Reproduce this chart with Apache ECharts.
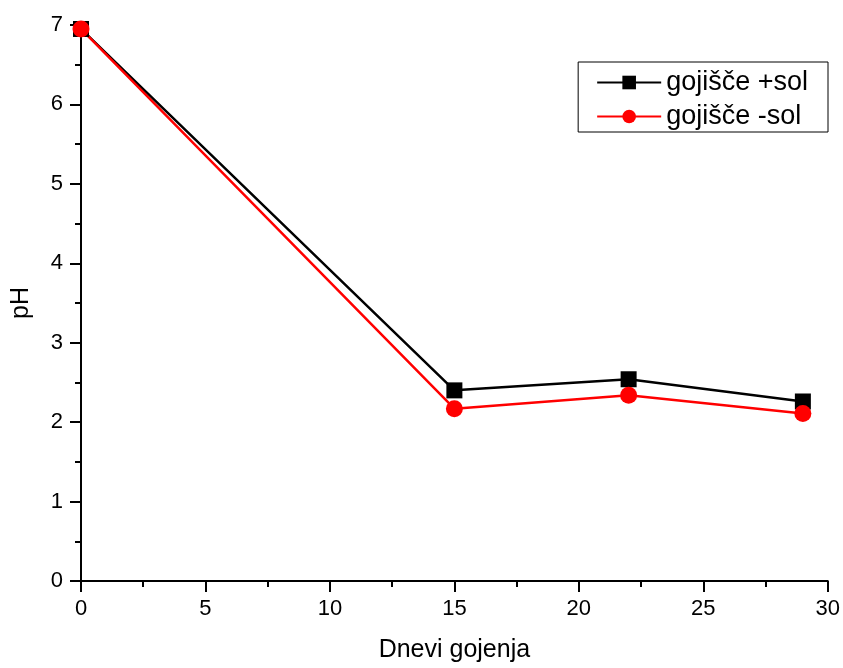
<!DOCTYPE html>
<html>
<head>
<meta charset="utf-8">
<script src="https://cdn.jsdelivr.net/npm/echarts@6/dist/echarts.min.js"></script>
<style>
  html, body { margin: 0; padding: 0; background: #fff; }
  #chart { width: 843px; height: 668px; }
</style>
</head>
<body>
<div id="chart"></div>
<script>
// Days of cultivation and the measured pH for each medium
const days = [0, 15, 22, 29];
const phWithSalt = [6.95, 2.40, 2.54, 2.26];
const phWithoutSalt = [6.95, 2.17, 2.34, 2.11];
const seriesNames = ['gojišče +sol', 'gojišče -sol'];

const chart = echarts.init(document.getElementById('chart'), null, { renderer: 'canvas' });

const font = 'Liberation Sans, Arial, sans-serif';
const axisCommon = {
  axisLine: { show: true, onZero: false, lineStyle: { color: '#000', width: 2 } },
  axisTick: { show: true, inside: false, length: 11, lineStyle: { color: '#000', width: 2 } },
  minorTick: { show: true, splitNumber: 2, length: 6, lineStyle: { color: '#000', width: 2 } },
  splitLine: { show: false },
  axisLabel: { color: '#000', fontSize: 22, fontFamily: font },
  nameTextStyle: { color: '#000', fontSize: 25, fontFamily: font }
};

chart.setOption({
  backgroundColor: '#fff',
  animation: false,
  grid: { left: 81, right: 13, top: 25, bottom: 87, containLabel: false },
  xAxis: Object.assign({}, axisCommon, {
    type: 'value',
    min: 0, max: 30, interval: 5,
    name: 'Dnevi gojenja',
    nameLocation: 'middle',
    nameGap: 57,
    axisLabel: Object.assign({}, axisCommon.axisLabel, { margin: 17 })
  }),
  yAxis: Object.assign({}, axisCommon, {
    type: 'value',
    min: 0, max: 7, interval: 1,
    name: 'pH',
    nameLocation: 'middle',
    nameGap: 47,
    axisLabel: Object.assign({}, axisCommon.axisLabel, { margin: 18 })
  }),
  legend: {
    right: 15,
    top: 62,
    orient: 'vertical',
    itemWidth: 64,
    itemHeight: 17,
    itemGap: 7,
    padding: [7, 20, 2, 18],
    borderColor: '#000',
    borderWidth: 1,
    textStyle: { color: '#000', fontSize: 27, fontFamily: font },
    data: seriesNames
  },
  series: [
    {
      name: seriesNames[0],
      type: 'line',
      data: days.map((d, i) => [d, phWithSalt[i]]),
      symbol: 'rect',
      symbolSize: 16,
      itemStyle: { color: '#000' },
      lineStyle: { color: '#000', width: 2.5 }
    },
    {
      name: seriesNames[1],
      type: 'line',
      data: days.map((d, i) => [d, phWithoutSalt[i]]),
      symbol: 'circle',
      symbolSize: 17,
      itemStyle: { color: '#ff0000' },
      lineStyle: { color: '#ff0000', width: 2.5 }
    }
  ]
});
</script>
</body>
</html>
